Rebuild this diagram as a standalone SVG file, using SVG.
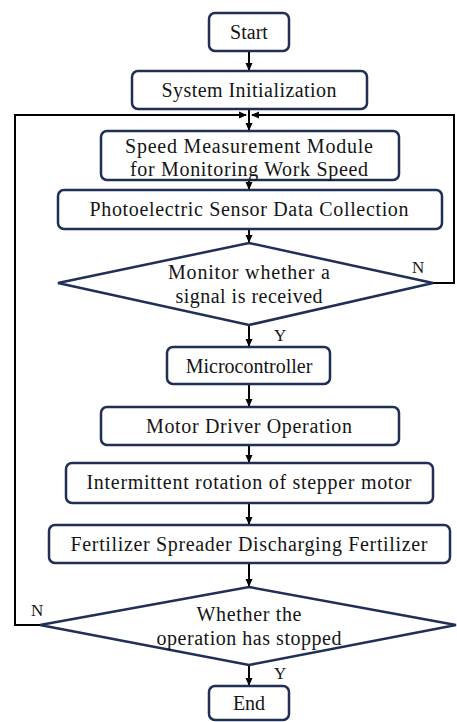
<svg xmlns="http://www.w3.org/2000/svg" width="457" height="722" viewBox="0 0 457 722">
<defs>
<marker id="ah" markerWidth="8" markerHeight="8" refX="7" refY="4" orient="auto" markerUnits="userSpaceOnUse">
<path d="M0,0.5 L8,4 L0,7.5 Z" fill="#000"/>
</marker>
</defs>
<style>
.box{fill:#fff;stroke:#1f2f55;stroke-width:2.5}
.t{font-size:20px;fill:#151515;text-anchor:middle}
.lb{font-size:17px;fill:#151515}
.c{fill:none;stroke:#000;stroke-width:2}
</style>
<rect width="457" height="722" fill="#fff"/>
<g font-family="Liberation Serif, Times New Roman, serif">
<g id="connectors">
<line class="c" x1="249" y1="51" x2="249" y2="70" marker-end="url(#ah)"/>
<line class="c" x1="249" y1="109" x2="249" y2="130" marker-end="url(#ah)"/>
<line class="c" x1="249" y1="180" x2="249" y2="189" marker-end="url(#ah)"/>
<line class="c" x1="249" y1="229" x2="249" y2="242" marker-end="url(#ah)"/>
<line class="c" x1="249" y1="325" x2="249" y2="346" marker-end="url(#ah)"/>
<line class="c" x1="249" y1="384" x2="249" y2="406" marker-end="url(#ah)"/>
<line class="c" x1="249" y1="445" x2="249" y2="462" marker-end="url(#ah)"/>
<line class="c" x1="249" y1="503" x2="249" y2="524" marker-end="url(#ah)"/>
<line class="c" x1="249" y1="563" x2="249" y2="586" marker-end="url(#ah)"/>
<line class="c" x1="249" y1="665" x2="249" y2="685" marker-end="url(#ah)"/>
<polyline class="c" points="433,283 454,283 454,115 252,115" marker-end="url(#ah)"/>
<polyline class="c" points="40,625 15,625 15,115 246,115" marker-end="url(#ah)"/>
<text class="lb" x="412" y="273">N</text>
<text class="lb" x="274" y="341">Y</text>
<text class="lb" x="31" y="616">N</text>
<text class="lb" x="274" y="679">Y</text>
</g>
<g id="start"><rect class="box" x="209" y="13" width="80" height="38" rx="6"/><text class="t" x="249" y="39">Start</text></g>
<g id="init"><rect class="box" x="132" y="71" width="235" height="38" rx="6"/><text class="t" x="249" y="97" textLength="175" lengthAdjust="spacing">System Initialization</text></g>
<g id="speed"><rect class="box" x="101" y="131" width="298" height="49" rx="6"/><text class="t" x="249" y="153" textLength="248" lengthAdjust="spacing">Speed Measurement Module</text><text class="t" x="249" y="176" textLength="238" lengthAdjust="spacing">for Monitoring Work Speed</text></g>
<g id="photo"><rect class="box" x="58" y="190" width="384" height="39" rx="6"/><text class="t" x="249" y="216" textLength="319" lengthAdjust="spacing">Photoelectric Sensor Data Collection</text></g>
<g id="monitor"><polygon class="box" points="249,243 433,283 249,325 58,283"/><text class="t" x="249" y="279" textLength="162" lengthAdjust="spacing">Monitor whether a</text><text class="t" x="249" y="303" textLength="147" lengthAdjust="spacing">signal is received</text></g>
<g id="mcu"><rect class="box" x="167" y="347" width="163" height="37" rx="6"/><text class="t" x="249" y="373">Microcontroller</text></g>
<g id="driver"><rect class="box" x="101" y="407" width="298" height="38" rx="6"/><text class="t" x="249" y="433" textLength="206" lengthAdjust="spacing">Motor Driver Operation</text></g>
<g id="stepper"><rect class="box" x="66" y="463" width="367" height="40" rx="6"/><text class="t" x="249" y="489" textLength="325" lengthAdjust="spacing">Intermittent rotation of stepper motor</text></g>
<g id="spreader"><rect class="box" x="49" y="525" width="401" height="38" rx="6"/><text class="t" x="249" y="551" textLength="357" lengthAdjust="spacing">Fertilizer Spreader Discharging Fertilizer</text></g>
<g id="stopped"><polygon class="box" points="249,587 456,625 249,665 40,625"/><text class="t" x="249" y="621" textLength="105" lengthAdjust="spacing">Whether the</text><text class="t" x="249" y="645" textLength="185" lengthAdjust="spacing">operation has stopped</text></g>
<g id="end"><rect class="box" x="209" y="686" width="80" height="34" rx="6"/><text class="t" x="249" y="710">End</text></g>
</g>
</svg>
